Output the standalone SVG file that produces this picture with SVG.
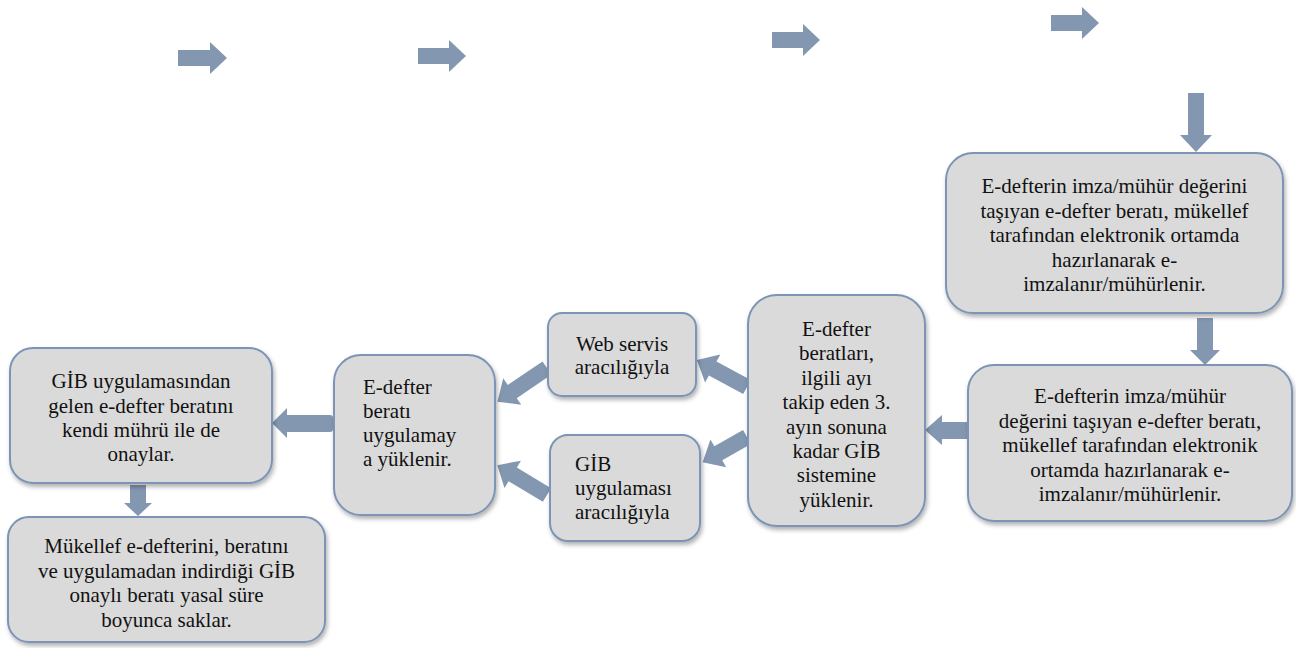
<svg xmlns="http://www.w3.org/2000/svg" width="1296" height="648" viewBox="0 0 1296 648">
<defs>
<filter id="sh" x="-10%" y="-10%" width="125%" height="125%">
<feDropShadow dx="1.5" dy="3" stdDeviation="2" flood-color="#000" flood-opacity="0.3"/>
</filter>
<style>
.box{fill:#dadada;stroke:#7c94b6;stroke-width:2;filter:url(#sh)}
.t{font-family:"Liberation Serif","Times New Roman",serif;font-size:21px;fill:#111}
.c{text-anchor:middle}
.ar{fill:#8497b0}
</style>
</defs>
<rect width="1296" height="648" fill="#fff"/>

<g id="decor" class="ar">
<polygon points="178,50 210,50 210,42 227,58 210,74 210,66 178,66"/>
<polygon points="418,48 449,48 449,40 466,56 449,72 449,64 418,64"/>
<polygon points="772,32 803,32 803,24 820,40 803,56 803,48 772,48"/>
<polygon points="1051,15 1082,15 1082,7 1099,23 1082,39 1082,31 1051,31"/>
</g>

<g id="connectors" class="ar">
<polygon points="1188,93 1204,93 1204,135 1212,135 1196,152 1180,135 1188,135"/>
<polygon points="1197,318 1213,318 1213,350 1220,350 1205,365 1190,350 1197,350"/>
<polygon points="968,422 942,422 942,415 925,430 942,445 942,439 968,439"/>
<path d="M0,-8 L39,-8 L39,-16 L57,0 L39,16 L39,8 L0,8 Z" transform="translate(747,387) rotate(-151.6)"/>
<path d="M0,-8 L33,-8 L33,-16 L51,0 L33,16 L33,8 L0,8 Z" transform="translate(747,437) rotate(150.4)"/>
<path d="M0,-8 L42,-8 L42,-16 L60,0 L42,16 L42,8 L0,8 Z" transform="translate(547,368) rotate(145.8)"/>
<path d="M0,-8 L40,-8 L40,-16 L58,0 L40,16 L40,8 L0,8 Z" transform="translate(547,495) rotate(-149)"/>
<path d="M333,418 Q333,415 330,415 L287,415 L287,408 L272,423 L287,438 L287,432 L330,432 Q333,432 333,429 Z"/>
<polygon points="130,485 146,485 146,503 152,503 138,516 124,503 130,503"/>
</g>

<g id="n1">
<rect class="box" x="946" y="153" width="337" height="160" rx="27"/>
<text class="t c" x="1114.5" y="193">E-defterin imza/mühür değerini</text>
<text class="t c" x="1114.5" y="217.5">taşıyan e-defter beratı, mükellef</text>
<text class="t c" x="1114.5" y="242">tarafından elektronik ortamda</text>
<text class="t c" x="1114.5" y="266.5">hazırlanarak e-</text>
<text class="t c" x="1114.5" y="291">imzalanır/mühürlenir.</text>
</g>

<g id="n2">
<rect class="box" x="968" y="365" width="324" height="156" rx="26"/>
<text class="t c" x="1130" y="403">E-defterin imza/mühür</text>
<text class="t c" x="1130" y="427.5">değerini taşıyan e-defter beratı,</text>
<text class="t c" x="1130" y="452">mükellef tarafından elektronik</text>
<text class="t c" x="1130" y="476.5">ortamda hazırlanarak e-</text>
<text class="t c" x="1130" y="501">imzalanır/mühürlenir.</text>
</g>

<g id="n3">
<rect class="box" x="748" y="295" width="177" height="231" rx="29"/>
<text class="t c" x="836.5" y="336">E-defter</text>
<text class="t c" x="836.5" y="360">beratları,</text>
<text class="t c" x="836.5" y="384.5">ilgili ayı</text>
<text class="t c" x="836.5" y="409">takip eden 3.</text>
<text class="t c" x="836.5" y="433.5">ayın sonuna</text>
<text class="t c" x="836.5" y="458">kadar GİB</text>
<text class="t c" x="836.5" y="482">sistemine</text>
<text class="t c" x="836.5" y="506.5">yüklenir.</text>
</g>

<g id="n4">
<rect class="box" x="548" y="313" width="148" height="83" rx="14"/>
<text class="t c" x="622" y="351">Web servis</text>
<text class="t c" x="622" y="374">aracılığıyla</text>
</g>

<g id="n5">
<rect class="box" x="550" y="435" width="150" height="106" rx="18"/>
<text class="t" x="575" y="471">GİB</text>
<text class="t" x="575" y="495">uygulaması</text>
<text class="t" x="575" y="519">aracılığıyla</text>
</g>

<g id="n6">
<rect class="box" x="334" y="355" width="161" height="160" rx="27"/>
<text class="t" x="363" y="394">E-defter</text>
<text class="t" x="363" y="418">beratı</text>
<text class="t" x="363" y="442">uygulamay</text>
<text class="t" x="363" y="466">a yüklenir.</text>
</g>

<g id="n7">
<rect class="box" x="10" y="348" width="262" height="135" rx="23"/>
<text class="t c" x="141" y="388">GİB uygulamasından</text>
<text class="t c" x="141" y="412.5">gelen e-defter beratını</text>
<text class="t c" x="141" y="437">kendi mührü ile de</text>
<text class="t c" x="141" y="461">onaylar.</text>
</g>

<g id="n8">
<rect class="box" x="8" y="517" width="317" height="125" rx="21"/>
<text class="t c" x="166.5" y="553">Mükellef e-defterini, beratını</text>
<text class="t c" x="166.5" y="577.5">ve uygulamadan indirdiği GİB</text>
<text class="t c" x="166.5" y="602">onaylı beratı yasal süre</text>
<text class="t c" x="166.5" y="626.5">boyunca saklar.</text>
</g>
</svg>
